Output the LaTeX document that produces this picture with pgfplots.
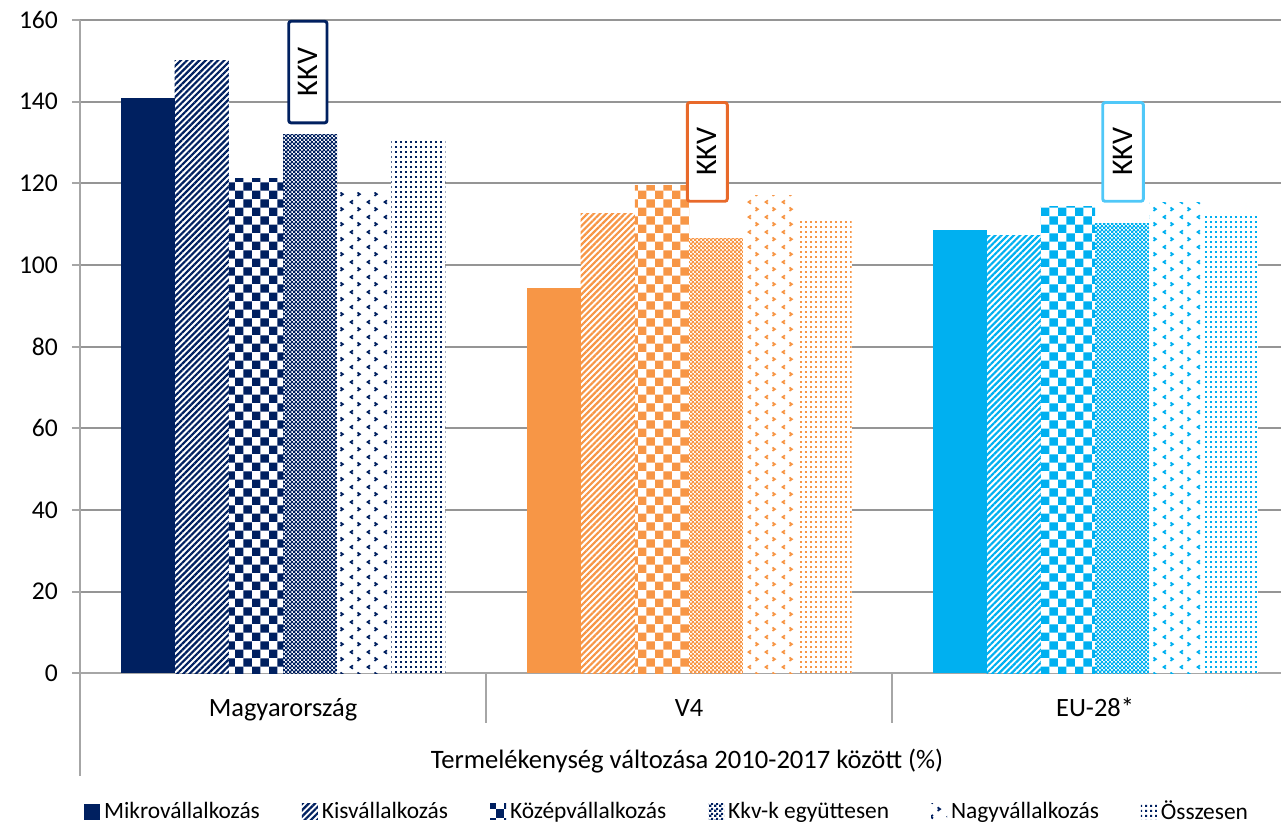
\documentclass[border=0pt]{standalone}
\usepackage{fontspec}
\setmainfont{Carlito}
\usepackage{pgfplots}
\pgfplotsset{compat=1.18}
\usetikzlibrary{patterns.meta}

\definecolor{hunavy}{HTML}{002060}
\definecolor{v4orange}{HTML}{F79646}
\definecolor{eublue}{HTML}{00B0F0}
\definecolor{boxorange}{HTML}{E8692A}
\definecolor{boxblue}{HTML}{50C8F8}
\definecolor{axisgray}{HTML}{A6A6A6}
\definecolor{gridgray}{HTML}{959595}

% hand-made fills, close to the Excel pattern fills
\tikzdeclarepattern{name=bigcheck, type=uncolored,
  bounding box={(0pt,0pt) and (8.4pt,8.4pt)}, tile size={(8.4pt,8.4pt)},
  code={\fill (0pt,0pt) rectangle (4.2pt,4.2pt);
        \fill (4.2pt,4.2pt) rectangle (8.4pt,8.4pt);}}
\tikzdeclarepattern{name=smallcheck, type=uncolored,
  bounding box={(0pt,0pt) and (2.2pt,2.2pt)}, tile size={(2.2pt,2.2pt)},
  code={\fill (0pt,0pt) rectangle (1.35pt,1.35pt);
        \fill (1.1pt,1.1pt) rectangle (2.2pt,2.2pt);}}
\tikzdeclarepattern{name=dotgrid, type=uncolored,
  bounding box={(0pt,0pt) and (2.5pt,2.25pt)}, tile size={(2.5pt,2.25pt)},
  code={\fill (0pt,0pt) rectangle (1.15pt,1.1pt);}}
\tikzdeclarepattern{name=chevrons, type=uncolored,
  bounding box={(0pt,0pt) and (8.3pt,7.5pt)}, tile size={(8.3pt,7.5pt)},
  code={\draw[line width=0.9pt] (4.3pt,0.6pt) -- (5.5pt,1.5pt) -- (4.3pt,2.4pt);
        \draw[line width=0.9pt] (2.0pt,4.4pt) -- (0.8pt,5.3pt) -- (2.0pt,6.2pt);}}

\pgfplotsset{
  mybar/.style={ybar, bar width=27.08pt, draw=none, bar shift=#1,
    legend image code/.code={\path[##1] (0pt,-4pt) rectangle (8pt,4pt);}},
  solidbar/.style 2 args={mybar=#1, fill=#2},
  patbar/.style n args={3}{mybar=#1, fill=white, postaction={pattern=#2, pattern color=#3}},
}

\begin{document}
\begin{tikzpicture}
\begin{axis}[
  at={(0pt,0pt)}, anchor=south west, scale only axis,
  width=600.5pt, height=326.65pt,
  xmin=0, xmax=2.958, ymin=0, ymax=160,
  ytick={0,20,...,160},
  xtick={0.5,1.5,2.5}, xticklabels={Magyarország,V4,EU-28*},
  axis x line*=bottom, axis y line*=left,
  axis line style={draw=axisgray, line width=1pt, -},
  ymajorgrids, grid style={draw=gridgray, line width=1pt},
  tick align=outside, major tick length=4pt,
  ytick style={draw=axisgray, line width=1pt},
  xtick style={draw=none},
  yticklabel style={font=\fontsize{12.8}{14}\selectfont, xshift=-3.5pt},
  xticklabel style={font=\fontsize{13.2}{15}\selectfont, anchor=base, yshift=-17.4pt},
  /pgf/number format/assume math mode=true,
  clip=false,
  legend columns=6,
  legend style={at={(0.4896,-0.2123)}, anchor=center, draw=none,
    font=\fontsize{11.7}{13}\selectfont,
    /tikz/every even column/.append style={column sep=19pt}},
  legend cell align=left,
]
% Magyarország
\addplot[solidbar={-67.7pt}{hunavy}] coordinates {(0.5,141.0)};
\addplot[patbar={-40.62pt}{{Lines[angle=45,distance=2.2pt,line width=1.1pt]}}{hunavy}] coordinates {(0.5,150.2)};
\addplot[patbar={-13.54pt}{bigcheck}{hunavy}] coordinates {(0.5,121.3)};
\addplot[patbar={13.54pt}{smallcheck}{hunavy}] coordinates {(0.5,131.9)};
\addplot[patbar={40.62pt}{chevrons}{hunavy}] coordinates {(0.5,117.8)};
\addplot[patbar={67.7pt}{dotgrid}{hunavy}] coordinates {(0.5,130.8)};
\legend{Mikrovállalkozás,Kisvállalkozás,Középvállalkozás,Kkv-k együttesen,Nagyvállalkozás,Összesen}
% V4
\addplot[forget plot, solidbar={-67.7pt}{v4orange}] coordinates {(1.5,94.4)};
\addplot[forget plot, patbar={-40.62pt}{{Lines[angle=45,distance=2.2pt,line width=1.1pt]}}{v4orange}] coordinates {(1.5,112.7)};
\addplot[forget plot, patbar={-13.54pt}{bigcheck}{v4orange}] coordinates {(1.5,119.4)};
\addplot[forget plot, patbar={13.54pt}{smallcheck}{v4orange}] coordinates {(1.5,106.4)};
\addplot[forget plot, patbar={40.62pt}{chevrons}{v4orange}] coordinates {(1.5,117.0)};
\addplot[forget plot, patbar={67.7pt}{dotgrid}{v4orange}] coordinates {(1.5,111.1)};
% EU-28*
\addplot[forget plot, solidbar={-67.7pt}{eublue}] coordinates {(2.5,108.5)};
\addplot[forget plot, patbar={-40.62pt}{{Lines[angle=45,distance=2.2pt,line width=1.1pt]}}{eublue}] coordinates {(2.5,107.2)};
\addplot[forget plot, patbar={-13.54pt}{bigcheck}{eublue}] coordinates {(2.5,114.3)};
\addplot[forget plot, patbar={13.54pt}{smallcheck}{eublue}] coordinates {(2.5,110.1)};
\addplot[forget plot, patbar={40.62pt}{chevrons}{eublue}] coordinates {(2.5,115.2)};
\addplot[forget plot, patbar={67.7pt}{dotgrid}{eublue}] coordinates {(2.5,112.2)};

% KKV boxes
\draw[hunavy, line width=1.45pt, fill=white, rounded corners=1.2pt]
  (axis cs:0.5141,134.8) rectangle (axis cs:0.6084,159.7);
\node[rotate=90, font=\fontsize{15}{17}\selectfont] at (axis cs:0.5613,147.25) {KKV};
\draw[boxorange, line width=1.45pt, fill=white, rounded corners=1.2pt]
  (axis cs:1.4958,115.6) rectangle (axis cs:1.5943,139.8);
\node[rotate=90, font=\fontsize{15}{17}\selectfont] at (axis cs:1.545,127.7) {KKV};
\draw[boxblue, line width=1.45pt, fill=white, rounded corners=1.2pt]
  (axis cs:2.5189,115.6) rectangle (axis cs:2.6190,139.8);
\node[rotate=90, font=\fontsize{15}{17}\selectfont] at (axis cs:2.569,127.7) {KKV};

% category separators below the axis
\draw[axisgray, line width=1pt] (axis cs:0,0) -- ++(0pt,-51.3pt);
\draw[axisgray, line width=1pt] (axis cs:1,0) -- ++(0pt,-24.8pt);
\draw[axisgray, line width=1pt] (axis cs:2,0) -- ++(0pt,-24.8pt);
\node[anchor=base, font=\fontsize{13.3}{15}\selectfont] at ([yshift=-47.5pt]axis cs:1.495,0)
  {Termelékenység változása 2010-2017 között (\%)};
\end{axis}
\pgfresetboundingbox
\useasboundingbox (-40pt,-76.35pt) rectangle (600.5pt,336.65pt);
\end{tikzpicture}
\end{document}
